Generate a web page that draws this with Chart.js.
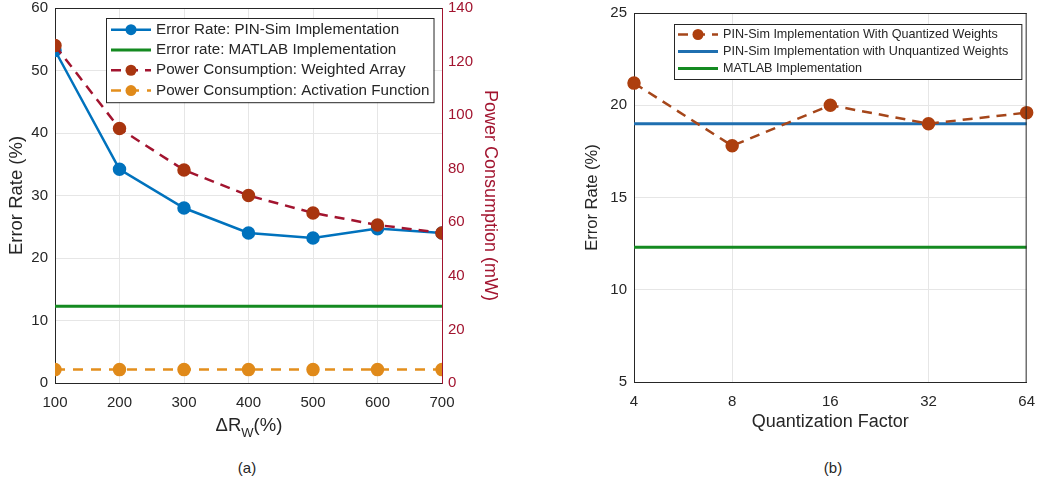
<!DOCTYPE html>
<html lang="en">
<head>
<meta charset="UTF-8">
<title>Error Rate and Power Consumption</title>
<script src="https://cdn.jsdelivr.net/npm/chart.js"></script>
<style>
  body { margin: 0; background: #fff; font-family: 'Liberation Sans', Arial, sans-serif; overflow: hidden; }
  #wrap { position: relative; width: 1038px; height: 485px; overflow: hidden; }
  .panel { position: absolute; }
  #panelA { left: 0; top: -8px; width: 505px; height: 448px; }
  #panelB { left: 540px; top: -3px; width: 506px; height: 443px; }
  .label { position: absolute; color: #262626; text-align: center; }
  .label sub { font-size: 13px; vertical-align: -6px; }
</style>
</head>
<body>
<div id="wrap">
  <div class="panel" id="panelA"><canvas id="chartA"></canvas></div>
  <div class="panel" id="panelB"><canvas id="chartB"></canvas></div>
  <div class="label" style="left:189px; top:414px; width:120px; font-size:18.5px;">ΔR<sub>W</sub>(%)</div>
  <div class="label" style="left:217px; top:459px; width:60px; font-size:15px;">(a)</div>
  <div class="label" style="left:803px; top:459px; width:60px; font-size:15px;">(b)</div>
</div>
<script>
  // (a) error rate and power vs resistance change
  const deltaRw = [100, 200, 300, 400, 500, 600, 700];
  const errPinSim = [53.2, 34.2, 28.0, 24.0, 23.2, 24.7, 24.0];
  const errMatlabA = [12.3, 12.3, 12.3, 12.3, 12.3, 12.3, 12.3];
  const powerWeighted = [126, 95, 79.5, 70, 63.5, 59, 56];
  const powerActivation = [5, 5, 5, 5, 5, 5, 5];

  // (b) error rate vs quantization factor
  const quantFactors = ['4', '8', '16', '32', '64'];
  const errQuantized = [21.2, 17.8, 20.0, 19.0, 19.6];
  const errUnquantized = [19.0, 19.0, 19.0, 19.0, 19.0];
  const errMatlabB = [12.3, 12.3, 12.3, 12.3, 12.3];

  const FONT = "'Liberation Sans', Arial, sans-serif";
  const INK = '#262626';
  const GRID = '#e6e6e6';
  const RED = '#a2142f';

  Chart.defaults.font.family = FONT;
  Chart.defaults.color = INK;

  const pts = (xs, ys) => xs.map((x, i) => ({ x: x, y: ys[i] }));

  // boxed legend drawn inside the plot area
  const boxLegend = {
    id: 'boxLegend',
    afterDatasetsDraw(chart, args, opts) {
      const ctx = chart.ctx, area = chart.chartArea;
      const items = chart.data.datasets;
      ctx.save();
      ctx.font = opts.font;
      const textW = Math.max(...items.map(d => ctx.measureText(d.label).width));
      const w = opts.padX + opts.sample + opts.gap + textW + opts.padR;
      const h = items.length * opts.rowH + opts.padY * 2;
      const x0 = Math.round(area.right - opts.right - w);
      const y0 = Math.round(area.top + opts.top);
      ctx.fillStyle = '#fff';
      ctx.fillRect(x0, y0, w, h);
      ctx.strokeStyle = INK;
      ctx.lineWidth = 1;
      ctx.strokeRect(x0 + 0.5, y0 + 0.5, w, h);
      items.forEach((d, i) => {
        const cy = y0 + opts.padY + opts.rowH * (i + 0.5);
        const sx = x0 + opts.padX;
        ctx.beginPath();
        ctx.setLineDash(d.borderDash || []);
        ctx.strokeStyle = d.borderColor;
        ctx.lineWidth = d.borderWidth;
        ctx.moveTo(sx, cy);
        ctx.lineTo(sx + opts.sample, cy);
        ctx.stroke();
        ctx.setLineDash([]);
        if (d.pointRadius > 0) {
          ctx.beginPath();
          ctx.arc(sx + opts.sample / 2, cy, d.pointRadius, 0, Math.PI * 2);
          ctx.fillStyle = d.pointBackgroundColor;
          ctx.fill();
        }
        ctx.fillStyle = INK;
        ctx.textBaseline = 'middle';
        ctx.fillText(d.label, sx + opts.sample + opts.gap, cy);
      });
      ctx.restore();
    }
  };

  // top / right edges of the axes box
  const frame = {
    id: 'frame',
    afterDraw(chart, args, opts) {
      const ctx = chart.ctx, a = chart.chartArea;
      ctx.save();
      ctx.lineWidth = 1;
      ctx.strokeStyle = INK;
      ctx.beginPath();
      ctx.moveTo(a.left, a.top + 0.5);
      ctx.lineTo(a.right, a.top + 0.5);
      ctx.stroke();
      if (opts.right) {
        ctx.beginPath();
        ctx.moveTo(a.right - 0.5, a.top);
        ctx.lineTo(a.right - 0.5, a.bottom);
        ctx.stroke();
      }
      ctx.restore();
    }
  };

  new Chart(document.getElementById('chartA'), {
    type: 'line',
    data: {
      datasets: [
        {
          label: 'Error Rate: PIN-Sim Implementation',
          data: pts(deltaRw, errPinSim),
          yAxisID: 'y',
          borderColor: '#0072bd',
          pointBackgroundColor: '#0072bd',
          pointBorderColor: '#0072bd',
          borderWidth: 2.5,
          pointRadius: 5.5,
          order: 2
        },
        {
          label: 'Error rate: MATLAB Implementation',
          data: pts(deltaRw, errMatlabA),
          yAxisID: 'y',
          borderColor: '#148a21',
          borderWidth: 3,
          pointRadius: 0,
          order: 3
        },
        {
          label: 'Power Consumption: Weighted Array',
          data: pts(deltaRw, powerWeighted),
          yAxisID: 'y1',
          borderColor: RED,
          pointBackgroundColor: '#a8350f',
          pointBorderColor: '#a8350f',
          borderWidth: 2.5,
          borderDash: [10, 7],
          pointRadius: 5.5,
          order: 1
        },
        {
          label: 'Power Consumption: Activation Function',
          data: pts(deltaRw, powerActivation),
          yAxisID: 'y1',
          borderColor: '#e38f1d',
          pointBackgroundColor: '#e08a1a',
          pointBorderColor: '#e08a1a',
          borderWidth: 2.5,
          borderDash: [10, 8],
          pointRadius: 5.5,
          order: 0
        }
      ]
    },
    options: {
      responsive: true,
      maintainAspectRatio: false,
      animation: false,
      layout: { padding: { top: 8, left: 2, right: 0, bottom: 0 } },
      plugins: {
        legend: { display: false },
        tooltip: { enabled: false },
        frame: { right: false },
        boxLegend: { font: '15.2px ' + FONT, padX: 5, sample: 40, gap: 5, padR: 4, padY: 1.5, rowH: 20.3, right: 8, top: 10 }
      },
      scales: {
        x: {
          type: 'linear',
          min: 100, max: 700,
          afterFit: s => { s.height = 57; },
          grid: { color: GRID, drawTicks: false },
          border: { color: INK },
          ticks: { stepSize: 100, padding: 11, font: { size: 15 }, color: INK }
        },
        y: {
          position: 'left',
          min: 0, max: 60,
          afterFit: s => { s.width = 53; },
          grid: { color: GRID, drawTicks: false },
          border: { color: INK },
          ticks: { stepSize: 10, padding: 7, font: { size: 15 }, color: INK },
          title: { display: true, text: 'Error Rate (%)', font: { size: 18.5 }, color: INK, padding: 4 }
        },
        y1: {
          position: 'right',
          min: 0, max: 140,
          afterFit: s => { s.width = 63; },
          grid: { drawOnChartArea: false, drawTicks: false },
          border: { color: RED },
          ticks: { stepSize: 20, padding: 6, font: { size: 15 }, color: RED },
          title: { display: true, text: 'Power Consumption (mW)', font: { size: 18 }, color: RED, padding: 4 }
        }
      }
    },
    plugins: [boxLegend, frame]
  });

  new Chart(document.getElementById('chartB'), {
    type: 'line',
    data: {
      labels: quantFactors,
      datasets: [
        {
          label: 'PIN-Sim Implementation With Quantized Weights',
          data: errQuantized,
          borderColor: '#a5461a',
          pointBackgroundColor: '#ad3f0e',
          pointBorderColor: '#ad3f0e',
          borderWidth: 2.5,
          borderDash: [10, 7],
          pointRadius: 5.5,
          order: 1
        },
        {
          label: 'PIN-Sim Implementation with Unquantized Weights',
          data: errUnquantized,
          borderColor: '#1f6fb0',
          borderWidth: 3,
          pointRadius: 0,
          order: 2
        },
        {
          label: 'MATLAB Implementation',
          data: errMatlabB,
          borderColor: '#148a21',
          borderWidth: 3,
          pointRadius: 0,
          order: 3
        }
      ]
    },
    options: {
      responsive: true,
      maintainAspectRatio: false,
      animation: false,
      layout: { padding: { top: 13, left: 39, right: 12, bottom: 3 } },
      plugins: {
        legend: { display: false },
        tooltip: { enabled: false },
        frame: { right: true },
        boxLegend: { font: '12.6px ' + FONT, padX: 4, sample: 40, gap: 5, padR: 13, padY: 2, rowH: 17, right: 5, top: 11 }
      },
      scales: {
        x: {
          type: 'category',
          offset: false,
          afterFit: s => { s.height = 55; },
          grid: {
            drawTicks: false,
            color: c => (c.tick && (c.tick.label === '8' || c.tick.label === '32')) ? GRID : 'rgba(0,0,0,0)'
          },
          border: { color: INK },
          ticks: { padding: 11, font: { size: 15 }, color: INK },
          title: { display: true, text: 'Quantization Factor', font: { size: 18 }, color: INK, padding: { top: 2, bottom: 4 } }
        },
        y: {
          min: 5, max: 25,
          afterFit: s => { s.width = 55; },
          grid: { color: GRID, drawTicks: false },
          border: { color: INK },
          ticks: { stepSize: 5, padding: 7, font: { size: 15 }, color: INK },
          title: { display: true, text: 'Error Rate (%)', font: { size: 16.5 }, color: INK, padding: 4 }
        }
      }
    },
    plugins: [boxLegend, frame]
  });
</script>
</body>
</html>
